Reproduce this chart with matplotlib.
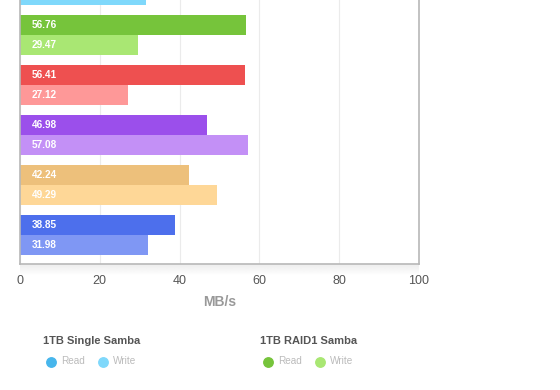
import matplotlib
matplotlib.use('Agg')
import matplotlib.pyplot as plt
from matplotlib.lines import Line2D
import numpy as np

plt.rcParams['font.family'] = ['Liberation Sans', 'DejaVu Sans']

# one group per storage setup, top to bottom
groups = ['1TB Single Samba', '1TB RAID1 Samba', 'group 3', 'group 4', 'group 5', 'group 6']
read = [38.2, 56.76, 56.41, 46.98, 42.24, 38.85]
write = [31.7, 29.47, 27.12, 57.08, 49.29, 31.98]
read_colors = ['#47b6ec', '#76c43b', '#ee5050', '#9b4feb', '#edc07b', '#4d6fec']
write_colors = ['#7fd8fb', '#a9e773', '#fe9898', '#c390f6', '#fed797', '#7f97f4']
xticks = [0, 20, 40, 60, 80, 100]

W, H = 560, 390
fig = plt.figure(figsize=(W / 100, H / 100), dpi=100)

# soft shadow under the x axis
sh = fig.add_axes([20 / W, 1 - 276 / H, 399 / W, 12 / H])
sh.imshow(np.linspace(0.93, 1.0, 20)[:, None], cmap='gray', vmin=0, vmax=1,
          aspect='auto', extent=(0, 1, 0, 1))
sh.axis('off')

# axes top sits above the figure edge (the image is a crop)
ax = fig.add_axes([20 / W, 1 - 264 / H, 399 / W, 309 / H])

pos = np.arange(len(groups))
bh = 0.4
ax.barh(pos - bh / 2, read, height=bh, color=read_colors, zorder=2)
ax.barh(pos + bh / 2, write, height=bh, color=write_colors, zorder=2)

# first group is scrolled out of view, its labels are hidden
for i in range(1, len(groups)):
    for y, v in ((pos[i] - bh / 2, read[i]), (pos[i] + bh / 2, write[i])):
        ax.text(2.9, y, f'{v:.2f}', color='white', fontsize=7.2,
                fontweight='bold', va='center', ha='left', zorder=3)

ax.set_xlim(0, 100)
ax.set_ylim(5.58, -0.6)
ax.set_xticks(xticks)
ax.set_yticks([])
ax.xaxis.grid(True, color='#ebebeb', linewidth=0.8, zorder=0)
ax.tick_params(axis='x', length=0, pad=8, labelsize=9, labelcolor='#555555')
for s in ('left', 'bottom', 'right'):
    ax.spines[s].set_color('#b8b8b8')
    ax.spines[s].set_linewidth(1.2)
ax.spines['top'].set_visible(False)
ax.set_xlabel('MB/s', fontsize=10, fontweight='bold', color='#999999', labelpad=6)

# legend below the chart
leg = [(43, groups[0], read_colors[0], write_colors[0]),
       (260, groups[1], read_colors[1], write_colors[1])]
for x0, name, rc, wc in leg:
    fig.text(x0 / W, 1 - 341.5 / H, name, fontsize=8, fontweight='bold',
             color='#555555', va='center', ha='left')
    for dx, c, lab in ((8, rc, 'Read'), (59.5, wc, 'Write')):
        fig.add_artist(Line2D([(x0 + dx) / W], [1 - 361.5 / H], marker='o',
                              markersize=6.8, color=c, linestyle='none',
                              transform=fig.transFigure))
        fig.text((x0 + dx + 10) / W, 1 - 361.5 / H, lab, fontsize=7.2,
                 color='#bbbbbb', va='center', ha='left')

fig.savefig('out.png', dpi=100, facecolor='white')
